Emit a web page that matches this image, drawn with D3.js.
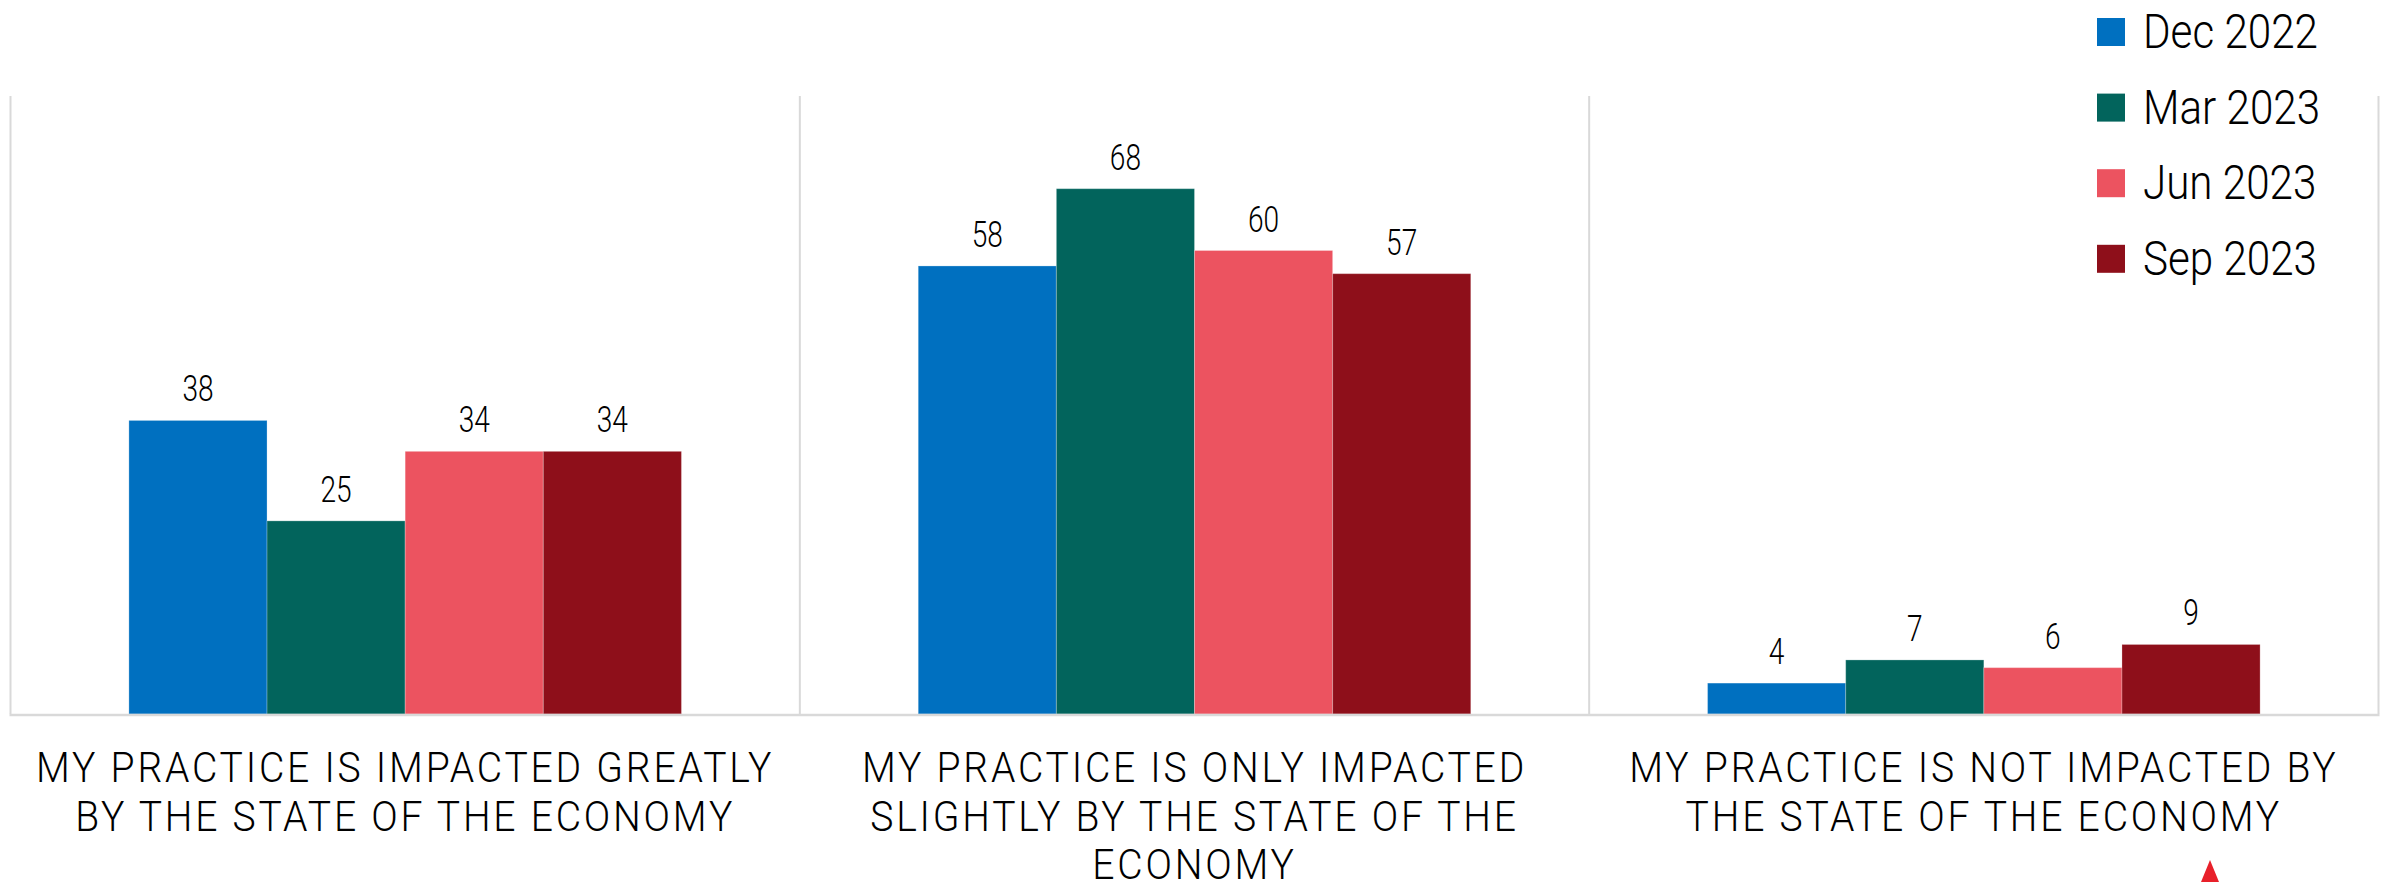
<!DOCTYPE html>
<html>
<head>
<meta charset="utf-8">
<script src="https://cdn.jsdelivr.net/npm/d3@7"></script>
<style>
	body { margin: 0; background: #fff; }
	text { font-family: Roboto, "Liberation Sans", sans-serif; fill: #000; font-weight: 300; }
</style>
</head>
<body>
<div id="chart"></div>
<script>
'use strict';

// survey waves, one colour each
const waves = ["Dec 2022", "Mar 2023", "Jun 2023", "Sep 2023"];
const colors = ["#0070c0", "#02645c", "#ec5360", "#8e0f1a"];

// answer categories, already broken into lines as in the picture
const categories = ["greatly", "slightly", "not"];
const categoryLines = [
	["MY PRACTICE IS IMPACTED GREATLY", "BY THE STATE OF THE ECONOMY"],
	["MY PRACTICE IS ONLY IMPACTED", "SLIGHTLY BY THE STATE OF THE", "ECONOMY"],
	["MY PRACTICE IS NOT IMPACTED BY", "THE STATE OF THE ECONOMY"]
];

// percent per wave, in the order of categories
const dec2022 = [38, 58, 4];
const mar2023 = [25, 68, 7];
const jun2023 = [34, 60, 6];
const sep2023 = [34, 57, 9];

const yMax = 80;

const width = 2392, height = 882;
const plot = { left: 10.5, right: 2378.5, top: 96, bottom: 714 };

// squeeze text horizontally, the original font is a condensed one
function squeeze(sel, k) {
	sel.each(function() {
		const w = this.getComputedTextLength();
		d3.select(this)
			.attr("textLength", w * k)
			.attr("lengthAdjust", "spacingAndGlyphs");
	});
}

const series = [dec2022, mar2023, jun2023, sep2023];
const rows = [];
categories.forEach((c, i) => {
	waves.forEach((w, j) => {
		rows.push({ cat: c, wave: w, color: colors[j], value: series[j][i] });
	});
});

const svg = d3.select("#chart")
	.append("svg")
		.attr("width", width)
		.attr("height", height)
		.style("display", "block")
	;

const x0 = d3.scaleBand()
	.domain(categories)
	.range([plot.left, plot.right])
	.paddingInner(0.3)
	.paddingOuter(0.15)
	;

const x1 = d3.scaleBand()
	.domain(waves)
	.range([0, x0.bandwidth()])
	;

const y = d3.scaleLinear()
	.domain([0, yMax])
	.range([plot.bottom, plot.top])
	;

// vertical separators between categories
const step = x0.step();
const seps = d3.range(categories.length + 1).map(i => plot.left + i * step);
svg.append("g")
	.selectAll("line")
	.data(seps)
	.join("line")
		.attr("x1", d => d)
		.attr("x2", d => d)
		.attr("y1", y(yMax))
		.attr("y2", y(0))
		.attr("stroke", "#d9d9d9")
		.attr("stroke-width", 2)
	;

// bars
svg.append("g")
	.selectAll("rect")
	.data(rows)
	.join("rect")
		.attr("x", d => x0(d.cat) + x1(d.wave))
		.attr("y", d => y(d.value))
		.attr("width", x1.bandwidth())
		.attr("height", d => y(0) - y(d.value))
		.attr("fill", d => d.color)
		.attr("stroke", "#ffffff")
		.attr("stroke-opacity", 0.25)
		.attr("stroke-width", 1)
	;

// baseline
svg.append("line")
	.attr("x1", plot.left - 1)
	.attr("x2", plot.right + 1)
	.attr("y1", y(0) + 1)
	.attr("y2", y(0) + 1)
	.attr("stroke", "#d9d9d9")
	.attr("stroke-width", 2.5)
	;

// value labels
svg.append("g")
	.selectAll("text")
	.data(rows)
	.join("text")
		.attr("x", d => x0(d.cat) + x1(d.wave) + x1.bandwidth() / 2)
		.attr("y", d => y(d.value) - 19)
		.attr("text-anchor", "middle")
		.style("font-size", "36px")
		.text(d => d.value)
		.call(squeeze, 0.78)
	;

// category labels under the axis
const catLabels = svg.append("g")
	.selectAll("text")
	.data(categories)
	.join("text")
		.attr("text-anchor", "middle")
		.style("font-size", "42px")
		.style("letter-spacing", "3px")
	;
catLabels.each(function(c, i) {
	const cx = x0(c) + x0.bandwidth() / 2;
	d3.select(this)
		.selectAll("tspan")
		.data(categoryLines[i])
		.join("tspan")
			.attr("x", cx)
			.attr("y", (d, k) => 782 + k * 48.7)
			.text(d => d)
		;
});
svg.selectAll("tspan").call(squeeze, 0.93);

// legend, top right
const legend = svg.append("g")
	.attr("transform", "translate(2097, 18)")
	;
const item = legend.selectAll("g")
	.data(waves)
	.join("g")
		.attr("transform", (d, i) => `translate(0, ${i * 75.6})`)
	;
item.append("rect")
	.attr("width", 28)
	.attr("height", 28)
	.attr("fill", (d, i) => colors[i])
	;
item.append("text")
	.attr("x", 46)
	.attr("y", 30)
	.style("font-size", "49px")
	.text(d => d)
	.call(squeeze, 0.86)
	;

// little red marker at the bottom edge
svg.append("path")
	.attr("d", "M2210,860 L2219,882 L2201,882 Z")
	.attr("fill", "#e8202a")
	;
</script>
</body>
</html>
